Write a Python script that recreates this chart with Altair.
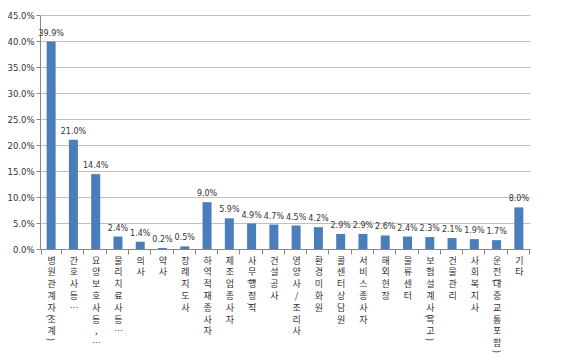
import altair as alt
import pandas as pd

cats = ["병원관계자(소계)", "간호사등…", "요양보호사등,…", "물리치료사등…", "의사", "약사",
        "장례지도사", "하역적재종사자", "제조업종사자", "사무(행정)직", "건설공사",
        "영양사/조리사", "환경미화원", "콜센터상담원", "서비스 종사자", "해외현장",
        "물류센터", "보험설계사(특고)", "건물관리", "사회복지사", "운전(대중교통포함)", "기타"]
vals = [39.9, 21.0, 14.4, 2.4, 1.4, 0.2, 0.5, 9.0, 5.9, 4.9, 4.7, 4.5, 4.2, 2.9, 2.9,
        2.6, 2.4, 2.3, 2.1, 1.9, 1.7, 8.0]
yticks = [0, 5, 10, 15, 20, 25, 30, 35, 40, 45]

TICK = 5
LPAD = 2
LH = 11.8
KFONT = "Noto Sans CJK KR"
NFONT = "DejaVu Sans"

df = pd.DataFrame({"cat": cats, "val": vals})

rows = []
for c in cats:
    k = 0
    for ch in c:
        if ch in "()":
            rows.append({"cat": c, "ch": ch, "k": k})
        else:
            k += 1
bdf = pd.DataFrame(rows)
bdf["off"] = TICK + LPAD + bdf["k"] * LH + 1

xaxis = alt.Axis(labelExpr="split(replace(replace(datum.label, '(', ''), ')', ''), '')",
                 labelAngle=0, labelAlign="center", labelBaseline="top",
                 labelLineHeight=LH, labelFontSize=9, labelFont=KFONT,
                 labelColor="#333333", labelPadding=LPAD, tickSize=TICK,
                 tickBand="extent", domainColor="#868686", tickColor="#868686",
                 grid=False, labelOverlap=False)
yaxis = alt.Axis(values=yticks, labelExpr="format(datum.value, '.1f') + '%'",
                 labelFont=NFONT, labelFontSize=8.5, labelColor="#333333",
                 tickSize=4, labelPadding=2, domainColor="#868686",
                 tickColor="#868686", grid=True, gridColor="#C0C0C0",
                 labelOverlap=False, tickCount=10)
yscale = alt.Scale(domain=[0, 45], nice=False)

x = alt.X("cat:N", sort=cats, title=None, axis=xaxis)
y = alt.Y("val:Q", title=None, scale=yscale, axis=yaxis)

bars = alt.Chart(df).mark_bar(size=9, color="#4A7EBB").encode(x=x, y=y)
labels = alt.Chart(df).transform_calculate(
    lab="format(datum.val, '.1f') + '%'"
).mark_text(dy=-8, fontSize=8, font=NFONT, color="#333333").encode(
    x=x, y=y, text="lab:N")
brk = alt.Chart(bdf).mark_text(angle=90, fontSize=9, font=KFONT, color="#333333",
                               baseline="middle", align="center").encode(
    x=alt.X("cat:N", sort=cats, title=None, axis=xaxis),
    y=alt.datum(0),
    yOffset=alt.YOffset("off:Q", scale=None),
    text="ch:N")

chart = alt.layer(bars, labels, brk).properties(
    width=490, height=234,
    autosize=alt.AutoSizeParams(type="none"),
    padding={"left": 32, "top": 7, "right": 46, "bottom": 105},
    background="white",
).configure_view(stroke=None)

chart.save("out.html", embed_options={"renderer": "svg", "actions": False})
